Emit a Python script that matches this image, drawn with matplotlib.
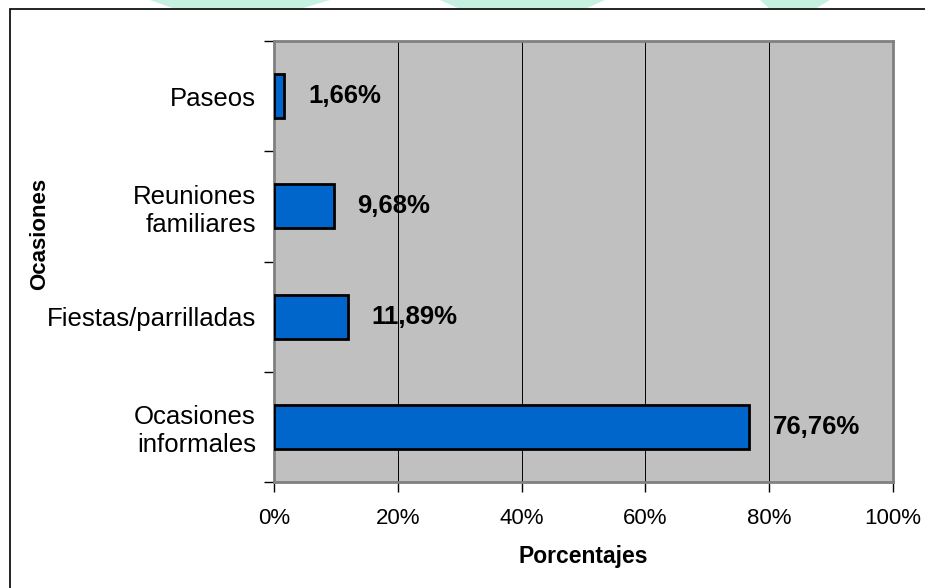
import matplotlib.pyplot as plt
from matplotlib.patches import Rectangle, Polygon
from matplotlib.ticker import FixedLocator

plt.rcParams['font.family'] = ['Liberation Sans', 'DejaVu Sans']

categorias = ["Ocasiones\ninformales", "Fiestas/parrilladas", "Reuniones\nfamiliares", "Paseos"]
porcentajes = [76.76, 11.89, 9.68, 1.66]
etiquetas = ["76,76%", "11,89%", "9,68%", "1,66%"]
ticks_x = [0, 20, 40, 60, 80, 100]
ticks_x_txt = ["0%", "20%", "40%", "60%", "80%", "100%"]

W, H = 925, 588
fig = plt.figure(figsize=(W / 100, H / 100), dpi=100)

# franjas verdes claras del fondo, arriba del marco
for pts in [[(150, 0), (330, 0), (300, 9), (175, 9)],
            [(440, 0), (605, 0), (585, 9), (460, 9)],
            [(760, 0), (830, 0), (815, 9), (770, 9)]]:
    fig.patches.append(Polygon([(x / W, 1 - y / H) for x, y in pts], closed=True,
                               transform=fig.transFigure, facecolor='#c6f1e0',
                               edgecolor='none'))

# marco del grafico
fig.patches.append(Rectangle((10 / W, -0.01), 1.0, 1 - 9 / H + 0.01,
                             transform=fig.transFigure, fill=False,
                             edgecolor='black', linewidth=1.2))

x0, x1, y0, y1 = 274, 893, 41, 482
ax = fig.add_axes([x0 / W, 1 - y1 / H, (x1 - x0) / W, (y1 - y0) / H])
ax.set_facecolor('#c0c0c0')

pos = list(range(len(categorias)))
ax.barh(pos, porcentajes, height=0.4, color='#0066cc', edgecolor='black',
        linewidth=2, zorder=3)

for p, v, t in zip(pos, porcentajes, etiquetas):
    ax.annotate(t, (v, p), xytext=(17, 0), textcoords='offset points',
                va='center', ha='left', fontsize=18.5, fontweight='bold')

ax.set_xlim(0, 100)
ax.set_ylim(-0.5, len(categorias) - 0.5)
ax.set_xticks(ticks_x)
ax.set_xticklabels(ticks_x_txt, fontsize=16)
ax.set_yticks(pos)
ax.set_yticklabels(categorias, fontsize=18.5)
ax.tick_params(axis='y', length=0, pad=13)
ax.yaxis.set_minor_locator(FixedLocator([p - 0.5 for p in pos] + [len(pos) - 0.5]))
ax.tick_params(axis='y', which='minor', length=7, width=1, color='black')
ax.tick_params(axis='x', length=7, width=1, color='black', pad=12)

ax.grid(axis='x', color='black', linewidth=0.7, zorder=1)
ax.set_axisbelow(True)
for lado in ['left', 'bottom', 'top', 'right']:
    ax.spines[lado].set_color('#808080')
    ax.spines[lado].set_linewidth(2)

ax.set_xlabel("Porcentajes", fontsize=16.5, fontweight='bold', labelpad=11)
fig.text(40 / W, 1 - 234 / H, "Ocasiones", rotation=90, fontsize=16,
         fontweight='bold', ha='center', va='center')

fig.savefig("out.png", dpi=100)
